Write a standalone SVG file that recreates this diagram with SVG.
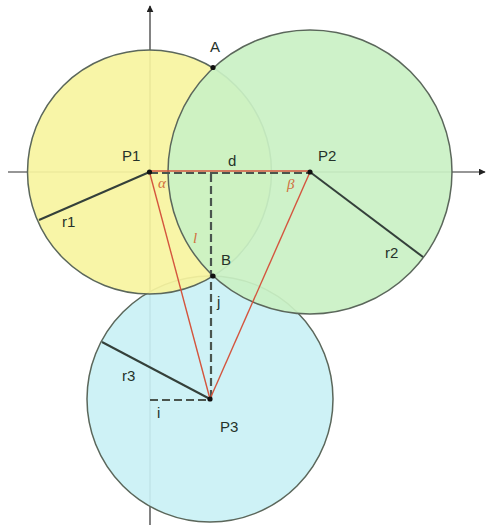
<svg xmlns="http://www.w3.org/2000/svg" width="487" height="525" viewBox="0 0 487 525">
<style>
.circ{stroke:#5b675b;stroke-width:1.5;fill-opacity:0.92}
.axis{stroke:#2f2f2f;stroke-width:1.2;fill:none}
.rad{stroke:#34403a;stroke-width:2;fill:none}
.red{stroke:#d4553e;stroke-width:1.4;fill:none}
.dash{stroke:#4a554e;stroke-width:2.2;stroke-dasharray:8 4;fill:none}
.dot{fill:#111}
.lbl{font-family:"Liberation Sans",Arial,sans-serif;font-size:15px;fill:#25322a}
.gk{font-family:"Liberation Serif","Times New Roman",serif;font-style:italic;font-size:15px;fill:#d0703e}
</style>
<defs>
<marker id="arr" viewBox="0 0 10 10" refX="9" refY="5" markerWidth="7" markerHeight="7" orient="auto" markerUnits="userSpaceOnUse">
<path d="M0,0 L10,5 L0,10 Z" fill="#222"/>
</marker>
</defs>
<rect width="487" height="525" fill="#ffffff"/>
<g id="axes">
<line class="axis" x1="8" y1="172" x2="485" y2="172" marker-end="url(#arr)"/>
<line class="axis" x1="150" y1="525" x2="150" y2="6" marker-end="url(#arr)"/>
</g>
<g id="circle3"><circle class="circ" cx="210" cy="399" r="123" fill="#caf1f5"/></g>
<g id="circle1"><circle class="circ" cx="149.5" cy="172" r="122" fill="#f7f4a0"/></g>
<g id="circle2"><circle class="circ" cx="310" cy="172" r="142" fill="#caf1c4"/></g>
<g id="connectors">
<line class="rad" x1="149.5" y1="172" x2="39" y2="220"/>
<line class="rad" x1="310" y1="172" x2="423" y2="257"/>
<line class="rad" x1="210" y1="399" x2="102" y2="342"/>
<line class="dash" x1="150" y1="173" x2="310" y2="173"/>
<line class="dash" x1="211" y1="174" x2="211" y2="399"/>
<line class="dash" x1="150" y1="400" x2="210" y2="400"/>
<line class="red" x1="149.5" y1="171" x2="310" y2="171"/>
<line class="red" x1="149.5" y1="172" x2="210" y2="399"/>
<line class="red" x1="310" y1="172" x2="210" y2="399"/>
</g>
<g id="P1"><circle class="dot" cx="149.5" cy="172" r="2.6"/><text class="lbl" x="122" y="161">P1</text></g>
<g id="P2"><circle class="dot" cx="310" cy="172" r="2.6"/><text class="lbl" x="318" y="161">P2</text></g>
<g id="P3"><circle class="dot" cx="210" cy="399" r="2.6"/><text class="lbl" x="220" y="432">P3</text></g>
<g id="A"><circle class="dot" cx="213" cy="67.5" r="2.6"/><text class="lbl" x="210" y="52">A</text></g>
<g id="B"><circle class="dot" cx="213" cy="276" r="2.6"/><text class="lbl" x="221" y="265">B</text></g>
<g id="labels">
<text class="lbl" x="228" y="166">d</text>
<text class="lbl" x="62" y="227">r1</text>
<text class="lbl" x="385" y="258">r2</text>
<text class="lbl" x="122" y="381">r3</text>
<text class="lbl" x="217" y="307">j</text>
<text class="lbl" x="157" y="418">i</text>
<text class="gk" x="158" y="188">α</text>
<text class="gk" x="287" y="189">β</text>
<text class="gk" x="193" y="243">l</text>
</g>
</svg>
